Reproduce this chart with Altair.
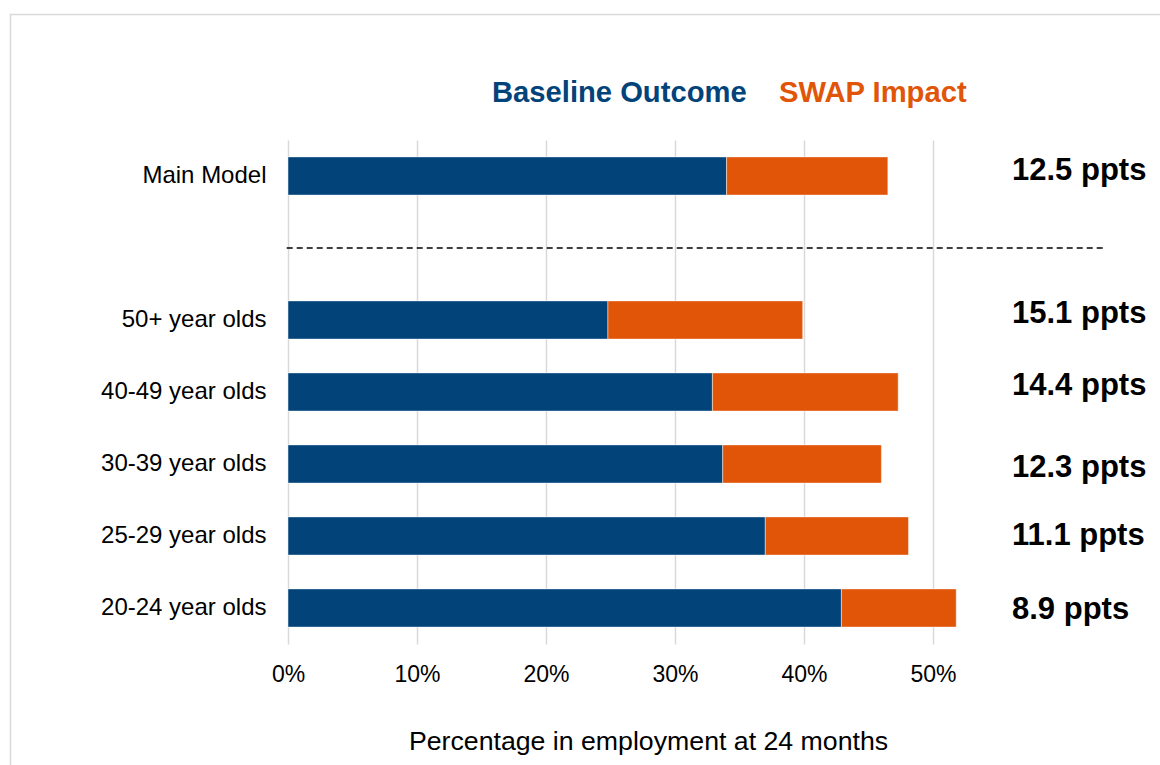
import altair as alt
import pandas as pd

# Rows from top to bottom; the blank row holds the dashed separator
rows = ["Main Model", " ", "50+ year olds", "40-49 year olds",
        "30-39 year olds", "25-29 year olds", "20-24 year olds"]
groups = ["Main Model", "50+ year olds", "40-49 year olds",
          "30-39 year olds", "25-29 year olds", "20-24 year olds"]
baseline = [34.0, 24.8, 32.9, 33.7, 37.0, 42.9]
impact = [12.5, 15.1, 14.4, 12.3, 11.1, 8.9]
series = ["Baseline Outcome", "SWAP Impact"]
colors = ["#02437A", "#E05507"]
x_ticks = [0, 10, 20, 30, 40, 50]

FONT = "Liberation Sans"

# vertical nudge (px) of each impact label relative to its bar centre
label_dy = {"Main Model": -5.3, "50+ year olds": -6.3, "40-49 year olds": -5.8,
            "30-39 year olds": 4.2, "25-29 year olds": 0.2, "20-24 year olds": 2.2}

long_rows = []
for g, b, i in zip(groups, baseline, impact):
    long_rows.append({"group": g, "series": series[0], "value": b, "order": 0})
    long_rows.append({"group": g, "series": series[1], "value": i, "order": 1})
bars_df = pd.DataFrame(long_rows)
labels_df = pd.DataFrame({"group": groups, "impact": impact})
labels_df["label"] = labels_df["impact"].map(lambda v: f"{v:.1f} ppts")

W, H = 774, 504

y_scale = alt.Scale(domain=rows, paddingInner=0.47, paddingOuter=0.235)
x_scale = alt.Scale(domain=[0, 60], nice=False)

bars = alt.Chart(bars_df).mark_bar(
    stroke="white", strokeWidth=1, strokeOpacity=0.45
).encode(
    y=alt.Y("group:N", scale=y_scale, sort=rows, title=None,
            axis=alt.Axis(domain=False, ticks=False, grid=False,
                          labelFont=FONT, labelFontSize=24, labelColor="#000000",
                          labelPadding=22)),
    x=alt.X("value:Q", stack="zero", scale=x_scale,
            title="Percentage in employment at 24 months",
            axis=alt.Axis(values=x_ticks, labelExpr="datum.value + '%'",
                          domain=False, ticks=False, grid=True,
                          gridColor="#D9D9D9", gridWidth=1.5,
                          labelFont=FONT, labelFontSize=23, labelColor="#000000",
                          labelPadding=19, labelFlush=False,
                          titleFont=FONT, titleFontSize=26.7, titleFontWeight="normal",
                          titleColor="#000000", titleX=360, titleY=105,
                          titleAlign="center", titleBaseline="alphabetic")),
    color=alt.Color("series:N", scale=alt.Scale(domain=series, range=colors),
                    legend=None),
    order=alt.Order("order:Q"),
)

separator = alt.Chart(pd.DataFrame({"row": [" "]})).mark_rule(
    color="#000000", strokeWidth=1.5, strokeDash=[6, 4]
).encode(
    y=alt.Y("row:N", scale=y_scale, sort=rows),
    x=alt.datum(-0.1, scale=x_scale),
    x2=alt.datum(63.2),
)

# impact labels in a column to the right of the bars
ppts_layers = []
for g in groups:
    ppts_layers.append(
        alt.Chart(labels_df).transform_filter(alt.datum.group == g).mark_text(
            align="left", baseline="middle", dy=label_dy[g],
            font=FONT, fontSize=31, fontWeight="bold", color="#000000"
        ).encode(
            y=alt.Y("group:N", scale=y_scale, sort=rows),
            x=alt.value(724),
            text="label:N",
        )
    )

legend_base = alt.Chart(pd.DataFrame({"t": [series[0]]})).mark_text(
    align="left", baseline="alphabetic", font=FONT, fontSize=29.2,
    fontWeight="bold", color=colors[0]
).encode(x=alt.value(204), y=alt.value(-38.5), text="t:N")

legend_swap = alt.Chart(pd.DataFrame({"t": [series[1]]})).mark_text(
    align="left", baseline="alphabetic", font=FONT, fontSize=29.2,
    fontWeight="bold", color=colors[1]
).encode(x=alt.value(491), y=alt.value(-38.5), text="t:N")

frame = alt.Chart(pd.DataFrame({"f": [0]})).mark_rect(
    fill="transparent", stroke="#D9D9D9", strokeWidth=1.5
).encode(x=alt.value(-277.5), y=alt.value(-125.5),
         x2=alt.value(1000), y2=alt.value(800))

chart = alt.layer(frame, bars, separator, *ppts_layers, legend_base, legend_swap).properties(
    width=W, height=H,
    autosize=alt.AutoSizeParams(type="none"),
    padding={"left": 288, "top": 140, "right": 1160 - 288 - W, "bottom": 765 - 140 - H},
    background="white",
).configure_view(stroke=None)

chart.save("out.html", embed_options={"renderer": "svg", "actions": False})
